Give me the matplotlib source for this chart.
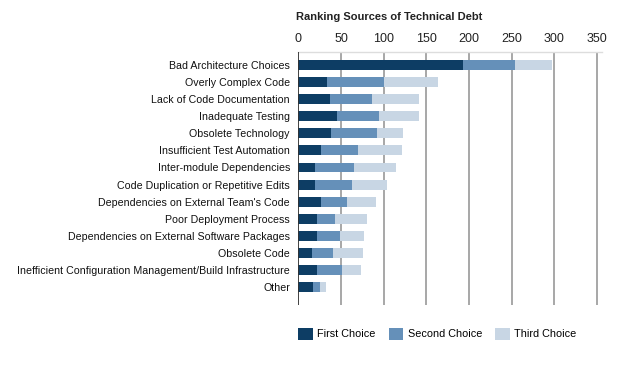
import numpy as np
import matplotlib
matplotlib.use('Agg')
import matplotlib.pyplot as plt
from matplotlib.patches import Patch

plt.rcParams['font.family'] = ['Liberation Sans', 'DejaVu Sans']

categories = [
    'Bad Architecture Choices',
    'Overly Complex Code',
    'Lack of Code Documentation',
    'Inadequate Testing',
    'Obsolete Technology',
    'Insufficient Test Automation',
    'Inter-module Dependencies',
    'Code Duplication or Repetitive Edits',
    "Dependencies on External Team's Code",
    'Poor Deployment Process',
    'Dependencies on External Software Packages',
    'Obsolete Code',
    'Inefficient Configuration Management/Build Infrastructure',
    'Other',
]
first_choice = [193, 34, 37, 45, 38, 27, 20, 20, 27, 22, 22, 16, 22, 17]
second_choice = [61, 66, 49, 50, 54, 43, 45, 43, 30, 21, 27, 25, 29, 9]
third_choice = [43, 64, 55, 47, 31, 52, 50, 41, 34, 38, 28, 35, 23, 7]
series_names = ['First Choice', 'Second Choice', 'Third Choice']
xticks = [0, 50, 100, 150, 200, 250, 300, 350]

colors = ['#0d3d64', '#6590b9', '#c8d6e4']

fig = plt.figure(figsize=(6.3, 3.81), dpi=100)
ax = fig.add_axes([0.4735, 0.1995, 0.482, 0.664])

y = np.arange(len(categories))
left = np.zeros(len(categories))
for vals, c in zip([first_choice, second_choice, third_choice], colors):
    ax.barh(y, vals, left=left, height=0.58, color=c, zorder=3)
    left += np.array(vals)

ax.set_ylim(len(categories) - 1 + 1.05, -0.76)
ax.set_xlim(0, 356)

# gridlines
for t in xticks[1:]:
    ax.axvline(t, color='#a0a0a0', lw=1.3, zorder=1)
ax.axvline(0, color='#333333', lw=1.3, zorder=4)

for s in ['right', 'bottom', 'left']:
    ax.spines[s].set_visible(False)
ax.spines['top'].set_color('#dddddd')
ax.spines['top'].set_linewidth(1.0)

ax.xaxis.tick_top()
ax.set_xticks(xticks)
ax.tick_params(axis='x', length=0, pad=5, labelsize=9, colors='#222222')
ax.set_yticks(y)
ax.set_yticklabels(categories)
ax.tick_params(axis='y', length=0, pad=6, labelsize=7.7, colors='#111111')

fig.text(0.47, 0.955, 'Ranking Sources of Technical Debt', fontsize=8.0,
         fontweight='bold', ha='left', va='center', color='#222222')

handles = [Patch(facecolor=c, edgecolor='none') for c in colors]
fig.legend(handles, series_names, loc='center left', bbox_to_anchor=(0.458, 0.124),
           ncol=3, frameon=False, fontsize=7.8, handlelength=1.35, handleheight=1.35,
           handletextpad=0.4, columnspacing=1.2)

fig.savefig('out.png', dpi=100)
